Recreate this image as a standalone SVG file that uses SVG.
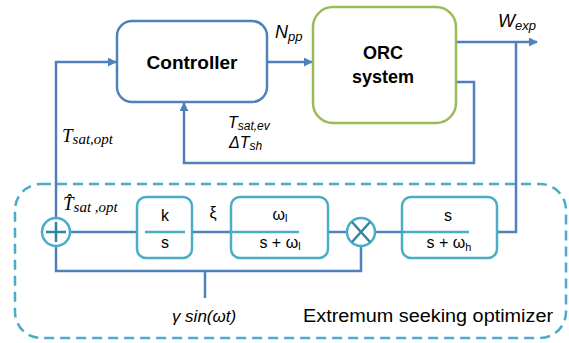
<svg xmlns="http://www.w3.org/2000/svg" width="569" height="343" viewBox="0 0 569 343">
<defs>
<style>
.wire{fill:none;stroke:#4f81bd;stroke-width:2.5;stroke-linejoin:miter}
.box{fill:#fff;stroke:#4bacc6;stroke-width:2.5}
.bar{stroke:#4bacc6;stroke-width:2.5}
.sym{stroke:#31859c;stroke-width:2.5;fill:none}
.t{font-family:"Liberation Sans",Arial,sans-serif;fill:#000}
.it{font-family:"Liberation Sans",Arial,sans-serif;font-style:italic;fill:#000}
.si{font-family:"Liberation Serif","Times New Roman",serif;font-style:italic;fill:#000}
</style>
<marker id="arr" viewBox="0 0 10 10" refX="9" refY="5" markerWidth="9" markerHeight="9" markerUnits="userSpaceOnUse" orient="auto">
<path d="M0,0 L10,5 L0,10 z" fill="#4f81bd"/>
</marker>
</defs>
<rect id="esc-frame" x="15" y="184" width="551" height="154" rx="26" fill="none" stroke="#4bacc6" stroke-width="2.5" stroke-dasharray="10,6"/>
<g id="connectors">
<polyline class="wire" points="361,246 361,271 56,271 56,62 116,62" marker-end="url(#arr)"/>
<line class="wire" x1="267" y1="62" x2="312" y2="62" marker-end="url(#arr)"/>
<line class="wire" x1="456" y1="42" x2="537" y2="42" marker-end="url(#arr)"/>
<polyline class="wire" points="456,82 474,82 474,163 184,163 184,103" marker-end="url(#arr)"/>
<polyline class="wire" points="497,232 516,232 516,42"/>
<line class="wire" x1="70" y1="232" x2="137" y2="232"/>
<line class="wire" x1="192" y1="232" x2="232" y2="232"/>
<line class="wire" x1="328" y1="232" x2="347" y2="232"/>
<line class="wire" x1="375" y1="232" x2="402" y2="232"/>
<line class="wire" x1="205" y1="271" x2="205" y2="298"/>
</g>
<g id="controller">
<rect x="117" y="21" width="150" height="81" rx="15" fill="#fff" stroke="#4f81bd" stroke-width="2.5"/>
<text class="t" x="192" y="69" font-size="18" font-weight="bold" text-anchor="middle" textLength="91" lengthAdjust="spacingAndGlyphs">Controller</text>
</g>
<g id="orc">
<rect x="313" y="7" width="143" height="116" rx="20" fill="#fff" stroke="#9bbb59" stroke-width="2.5"/>
<text class="t" x="383" y="59" font-size="18" font-weight="bold" text-anchor="middle">ORC</text>
<text class="t" x="383" y="83" font-size="18" font-weight="bold" text-anchor="middle">system</text>
</g>
<g id="sum">
<circle cx="56" cy="232" r="14" fill="#fff" stroke="#4bacc6" stroke-width="2.5"/>
<path class="sym" d="M46,232 H66 M56,222 V242"/>
</g>
<g id="integrator">
<rect class="box" x="137" y="197" width="55" height="61" rx="9"/>
<line class="bar" x1="145" y1="232" x2="185" y2="232"/>
<text class="t" x="165" y="221" font-size="16" text-anchor="middle">k</text>
<text class="t" x="165" y="248" font-size="16" text-anchor="middle">s</text>
</g>
<g id="lowpass">
<rect class="box" x="231" y="197" width="97" height="61" rx="9"/>
<line class="bar" x1="232" y1="232" x2="299" y2="232"/>
<text class="t" x="280" y="220" font-size="16" text-anchor="middle">ω<tspan font-size="11" dy="2">l</tspan></text>
<text class="t" x="280" y="248" font-size="16" text-anchor="middle">s + ω<tspan font-size="11" dy="2">l</tspan></text>
</g>
<g id="multiplier">
<circle cx="361" cy="232" r="14" fill="#fff" stroke="#4bacc6" stroke-width="2.5"/>
<path class="sym" d="M352,222 L370,242 M370,222 L352,242"/>
</g>
<g id="highpass">
<rect class="box" x="402" y="197" width="95" height="61" rx="9"/>
<line class="bar" x1="402" y1="232" x2="469" y2="232"/>
<text class="t" x="448" y="221" font-size="16" text-anchor="middle">s</text>
<text class="t" x="449" y="248" font-size="16" text-anchor="middle">s + ω<tspan font-size="11" dy="3">h</tspan></text>
</g>
<g id="labels">
<text class="it" x="275" y="38" font-size="18">N<tspan font-size="13" dy="3">pp</tspan></text>
<text class="it" x="498" y="27" font-size="18">W<tspan font-size="13" dy="3">exp</tspan></text>
<text class="it" x="228" y="128" font-size="16">T<tspan font-size="12" dy="2">sat,ev</tspan></text>
<text class="it" x="229" y="148" font-size="16">ΔT<tspan font-size="12" dy="2">sh</tspan></text>
<text class="si" x="62" y="142" font-size="19">T<tspan font-size="15" dy="2">sat,opt</tspan></text>
<text class="si" x="63" y="210" font-size="19">T̂<tspan font-size="15" dy="2">sat ,opt</tspan></text>
<text class="t" x="213" y="218" font-size="16" text-anchor="middle">ξ</text>
<text class="it" x="204" y="322" font-size="17" text-anchor="middle">γ sin(ωt)</text>
<text class="t" x="303" y="322" font-size="18" textLength="250" lengthAdjust="spacingAndGlyphs">Extremum seeking optimizer</text>
</g>
</svg>
